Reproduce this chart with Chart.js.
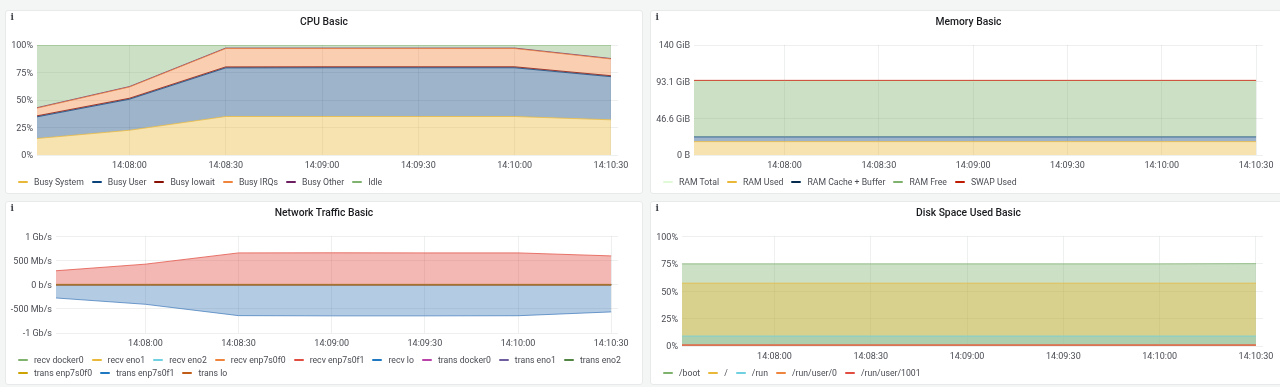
<!DOCTYPE html>
<html>
<head>
<meta charset="utf-8">
<title>Node Exporter Basic</title>
<script src="https://cdn.jsdelivr.net/npm/chart.js@4"></script>
<style>
  html, body { margin: 0; padding: 0; background: #f4f5f5; width: 1280px; height: 387px; overflow: hidden; }
  body { font-family: Roboto, sans-serif; position: relative; }
  .panel { position: absolute; box-sizing: border-box; background: #fff; border: 1px solid #e8e9ea; border-radius: 3px; }
  .panel canvas { position: absolute; left: 0; top: 0; }
  .panel-title { position: absolute; left: 0; right: 0; text-align: center; font-size: 10.3px; font-weight: 500; color: #1b1c20; line-height: 14px; }
  .panel-info { position: absolute; font-family: "DejaVu Serif", serif; font-weight: bold; font-size: 9px; line-height: 10px; color: #43464c; }
  .legend { position: absolute; display: flex; flex-wrap: wrap; font-size: 8.7px; color: #4a4c54; line-height: 13px; }
  .legend-item { display: flex; align-items: center; margin-right: 8px; white-space: nowrap; }
  .legend-swatch { display: inline-block; width: 10px; height: 2.5px; margin-right: 6px; border-radius: 1px; }
</style>
</head>
<body>
<script>
// ---------------------------------------------
// Shared time axis (seconds relative to 14:08:00)
// ---------------------------------------------
const sampleTimes = [-28.8, 0, 30, 60, 90, 120, 150];
const timeTicks = [0, 30, 60, 90, 120, 150];
const timeLabels = ["14:08:00", "14:08:30", "14:09:00", "14:09:30", "14:10:00", "14:10:30"];

// ---------------------------------------------
// CPU Basic (percent, stacked)
// ---------------------------------------------
const cpuTicks = [0, 25, 50, 75, 100];
const cpuTickLabels = ["0%", "25%", "50%", "75%", "100%"];
const busySystem = [15, 22.5, 35, 35, 35, 35, 32];
const busyUser = [19.7, 28.2, 44.2, 44.3, 44.3, 44.3, 39.2];
const busyIowait = [0.9, 0.9, 0.9, 0.9, 0.9, 0.9, 0.9];
const busyIrqs = [7, 10.2, 16.7, 16.6, 16.6, 16.6, 15.2];
const busyOther = [0.4, 0.4, 0.4, 0.4, 0.4, 0.4, 0.4];
const idle = [57, 37.8, 2.8, 2.8, 2.8, 2.8, 12.3];

// ---------------------------------------------
// Memory Basic (GiB, stacked except RAM Total)
// ---------------------------------------------
const memTicks = [0, 46.6, 93.1, 139.7];
const memTickLabels = ["0 B", "46.6 GiB", "93.1 GiB", "140 GiB"];
const ramTotal = [93.3, 93.3, 93.3, 93.3, 93.3, 93.3, 93.3];
const ramUsed = [17, 17, 17, 17, 17, 17, 17];
const ramCache = [6, 6, 6, 6, 6, 6, 6];
const ramFree = [70.3, 70.3, 70.3, 70.3, 70.3, 70.3, 70.3];
const swapUsed = [1.5, 1.5, 1.5, 1.5, 1.5, 1.5, 1.5];

// ---------------------------------------------
// Network Traffic Basic (Mb/s)
// ---------------------------------------------
const netTicks = [-1000, -500, 0, 500, 1000];
const netTickLabels = ["-1 Gb/s", "-500 Mb/s", "0 b/s", "500 Mb/s", "1 Gb/s"];
const recvDocker0 = [0, 0, 0, 0, 0, 0, 0];
const recvEno1 = [0, 0, 0, 0, 0, 0, 0];
const recvEno2 = [0, 0, 0, 0, 0, 0, 0];
const recvEnp7s0f0 = [4, 4, 4, 4, 4, 4, 4];
const recvEnp7s0f1 = [290, 427, 660, 662, 660, 660, 598];
const recvLo = [4, 4, 4, 4, 4, 4, 4];
const transDocker0 = [0, 0, 0, 0, 0, 0, 0];
const transEno1 = [0, 0, 0, 0, 0, 0, 0];
const transEno2 = [0, 0, 0, 0, 0, 0, 0];
const transEnp7s0f0 = [-4, -4, -4, -4, -4, -4, -4];
const transEnp7s0f1 = [-274, -405, -640, -645, -645, -642, -563];
const transLo = [0, 0, 0, 0, 0, 0, 0];

// ---------------------------------------------
// Disk Space Used Basic (percent, overlaid)
// ---------------------------------------------
const diskTicks = [0, 25, 50, 75, 100];
const diskTickLabels = ["0%", "25%", "50%", "75%", "100%"];
const diskBoot = [75, 75, 75, 75, 75, 75, 75.2];
const diskRoot = [57.4, 57.4, 57.4, 57.4, 57.4, 57.4, 57.4];
const diskRun = [9.1, 9.1, 9.1, 9.1, 9.1, 9.1, 9.1];
const diskRunUser0 = [1, 1, 1, 1, 1, 1, 1];
const diskRunUser1001 = [1, 1, 1, 1, 1, 1, 1];

// ---------------------------------------------
// Helpers
// ---------------------------------------------
function toPoints(values) {
  return values.map((y, i) => ({ x: sampleTimes[i], y: y }));
}

// hex colour -> rgba string
function withAlpha(hex, alpha) {
  const n = parseInt(hex.slice(1), 16);
  return `rgba(${n >> 16}, ${(n >> 8) & 255}, ${n & 255}, ${alpha})`;
}

function series(label, values, color, fill, extra) {
  return Object.assign({
    label: label,
    data: toPoints(values),
    borderColor: withAlpha(color, 0.75),
    backgroundColor: withAlpha(color, 0.4),
    legendColor: color,
    borderWidth: 1,
    pointRadius: 0,
    tension: 0,
    fill: fill,
  }, extra || {});
}

const gridColor = "rgba(60, 65, 75, 0.085)";
const tickFont = { family: "Roboto, sans-serif", size: 9 };
const tickColor = "#4a4c54";

// ---------------------------------------------
// Build one panel: title, info mark, canvas, chart, legend.
// box = panel rectangle, plot = plot area in page pixels.
// ---------------------------------------------
function addPanel(cfg) {
  const { box, plot } = cfg;
  const panel = document.createElement("div");
  panel.className = "panel";
  panel.style.cssText = `left:${box.x}px;top:${box.y}px;width:${box.w}px;height:${box.h}px`;

  const canvas = document.createElement("canvas");
  panel.appendChild(canvas);

  const title = document.createElement("div");
  title.className = "panel-title";
  title.style.top = "4px";
  title.textContent = cfg.title;
  panel.appendChild(title);

  const info = document.createElement("div");
  info.className = "panel-info";
  info.style.cssText = "left:4.5px;top:1px";
  info.textContent = "i";
  panel.appendChild(info);

  const legend = document.createElement("div");
  legend.className = "legend";
  legend.style.cssText = `left:${cfg.legendLeft - box.x - 1}px;top:${cfg.legendTop - box.y - 1}px;width:${box.w - 15}px`;
  cfg.datasets.forEach((ds) => {
    const item = document.createElement("span");
    item.className = "legend-item";
    const swatch = document.createElement("span");
    swatch.className = "legend-swatch";
    swatch.style.background = ds.legendColor;
    item.appendChild(swatch);
    item.appendChild(document.createTextNode(ds.label));
    legend.appendChild(item);
  });
  panel.appendChild(legend);
  document.body.appendChild(panel);

  // the canvas covers the panel's inner box
  const innerW = box.w - 2;
  const innerH = box.h - 2;
  const originX = box.x + 1;
  const originY = box.y + 1;
  canvas.width = innerW;
  canvas.height = innerH;
  canvas.style.width = innerW + "px";
  canvas.style.height = innerH + "px";

  new Chart(canvas, {
    type: "line",
    data: { datasets: cfg.datasets },
    options: {
      responsive: false,
      animation: false,
      layout: {
        padding: { left: 0, top: plot.top - originY, right: originX + innerW - plot.right, bottom: 0 },
      },
      plugins: { legend: { display: false }, title: { display: false }, tooltip: { enabled: false } },
      scales: {
        x: {
          type: "linear",
          min: -28.8,
          max: 152.2,
          border: { display: false },
          grid: { color: gridColor, drawTicks: false },
          afterBuildTicks: (scale) => { scale.ticks = timeTicks.map((v) => ({ value: v })); },
          afterFit: (scale) => { scale.height = originY + innerH - plot.bottom; },
          ticks: {
            autoSkip: false,
            maxRotation: 0,
            padding: 5,
            font: tickFont,
            color: tickColor,
            callback: (value, index) => timeLabels[index],
          },
        },
        y: {
          stacked: cfg.stacked,
          min: cfg.yTicks[0],
          max: cfg.yTicks[cfg.yTicks.length - 1],
          border: { display: false },
          grid: { color: gridColor, drawTicks: false },
          afterBuildTicks: (scale) => { scale.ticks = cfg.yTicks.map((v) => ({ value: v })); },
          afterFit: (scale) => { scale.width = plot.left - originX; },
          ticks: {
            autoSkip: false,
            padding: 4,
            labelOffset: 1,
            font: tickFont,
            color: tickColor,
            callback: (value, index) => cfg.yLabels[index],
          },
        },
      },
    },
  });
}

// ---------------------------------------------
// The four panels. The right-hand ones run past
// the edge of the picture, same as the screenshot.
// ---------------------------------------------
addPanel({
  title: "CPU Basic",
  box: { x: 5, y: 10, w: 638, h: 184 },
  plot: { left: 37, right: 618, top: 45, bottom: 155 },
  legendLeft: 18,
  legendTop: 175.5,
  stacked: true,
  yTicks: cpuTicks,
  yLabels: cpuTickLabels,
  datasets: [
    series("Busy System", busySystem, "#EAB839", "origin"),
    series("Busy User", busyUser, "#0A437C", "-1"),
    series("Busy Iowait", busyIowait, "#890F02", "-1"),
    series("Busy IRQs", busyIrqs, "#EF843C", "-1"),
    series("Busy Other", busyOther, "#6D1F62", "-1"),
    series("Idle", idle, "#7EB26D", "-1"),
  ],
});

addPanel({
  title: "Memory Basic",
  box: { x: 650, y: 10, w: 637, h: 184 },
  plot: { left: 694, right: 1263, top: 45, bottom: 155 },
  legendLeft: 663,
  legendTop: 175.5,
  stacked: true,
  yTicks: memTicks,
  yLabels: memTickLabels,
  datasets: [
    series("RAM Total", ramTotal, "#E0F9D7", false, { stack: "total" }),
    series("RAM Used", ramUsed, "#EAB839", "origin"),
    series("RAM Cache + Buffer", ramCache, "#0A437C", "-1", { legendColor: "#052B51" }),
    series("RAM Free", ramFree, "#7EB26D", "-1"),
    series("SWAP Used", swapUsed, "#BF1B00", "-1"),
  ],
});

addPanel({
  title: "Network Traffic Basic",
  box: { x: 5, y: 201, w: 638, h: 184 },
  plot: { left: 56, right: 618, top: 236.5, bottom: 333 },
  legendLeft: 18,
  legendTop: 353.5,
  stacked: false,
  yTicks: netTicks,
  yLabels: netTickLabels,
  datasets: [
    series("recv docker0", recvDocker0, "#7EB26D", "origin", { order: 12 }),
    series("recv eno1", recvEno1, "#EAB839", "origin", { order: 11 }),
    series("recv eno2", recvEno2, "#6ED0E0", "origin", { order: 10 }),
    series("recv enp7s0f0", recvEnp7s0f0, "#EF843C", "origin", { order: 9 }),
    series("recv enp7s0f1", recvEnp7s0f1, "#E24D42", "origin", { order: 8 }),
    series("recv lo", recvLo, "#1F78C1", "origin", { order: 7 }),
    series("trans docker0", transDocker0, "#BA43A9", "origin", { order: 6 }),
    series("trans eno1", transEno1, "#705DA0", "origin", { order: 5 }),
    series("trans eno2", transEno2, "#508642", "origin", { order: 4 }),
    series("trans enp7s0f0", transEnp7s0f0, "#CCA300", "origin", { order: 3 }),
    series("trans enp7s0f1", transEnp7s0f1, "#447EBC", "origin", { order: 2, legendColor: "#1F78C1" }),
    series("trans lo", transLo, "#C15C17", "origin", { order: 1, borderWidth: 2, borderColor: withAlpha("#C15C17", 0.5) }),
  ],
});

addPanel({
  title: "Disk Space Used Basic",
  box: { x: 650, y: 201, w: 637, h: 184 },
  plot: { left: 682, right: 1263, top: 236.5, bottom: 346 },
  legendLeft: 663,
  legendTop: 366.5,
  stacked: false,
  yTicks: diskTicks,
  yLabels: diskTickLabels,
  datasets: [
    series("/boot", diskBoot, "#7EB26D", "origin", { order: 5 }),
    series("/", diskRoot, "#EAB839", "origin", { order: 4 }),
    series("/run", diskRun, "#6ED0E0", "origin", { order: 3 }),
    series("/run/user/0", diskRunUser0, "#EF843C", "origin", { order: 2 }),
    series("/run/user/1001", diskRunUser1001, "#E24D42", "origin", { order: 1 }),
  ],
});
</script>
</body>
</html>
